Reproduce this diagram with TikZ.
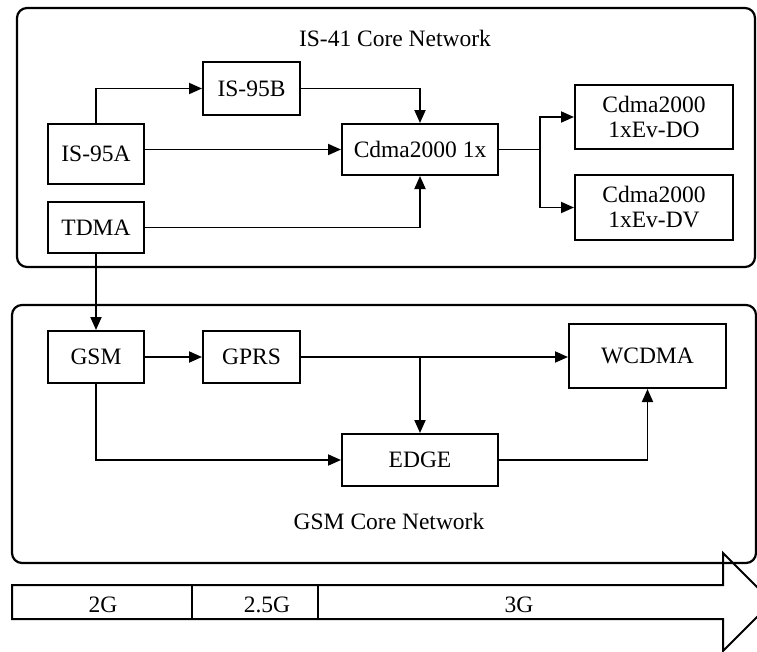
\documentclass[tikz,border=0pt]{standalone}
\usepackage{fontspec}
\setmainfont{Liberation Serif}
\usetikzlibrary{arrows.meta}
\begin{document}
\begin{tikzpicture}[x=1pt,y=-1pt,
  box/.style={draw, line width=2pt, inner sep=0pt, align=center, font=\fontsize{23.5}{25}\selectfont},
  arr/.style={line width=1.9pt, -{Triangle[length=13pt,width=11pt]}},
  cont/.style={draw, line width=2.2pt, rounded corners=10pt},
  lbl/.style={font=\fontsize{23.5}{25}\selectfont, inner sep=0pt}]
\useasboundingbox (0,0) rectangle (757,651);
% containers
\draw[cont] (17,8) rectangle (755,267);
\draw[cont] (12,305) rectangle (756,563);
\node[lbl] (t1) at (395,38) {IS-41 Core Network};
\node[lbl] (t2) at (389,521) {GSM Core Network};
% nodes top
\node[box, minimum width=97pt, minimum height=53pt] (is95b) at (251.5,88.5) {IS-95B};
\node[box, minimum width=96pt, minimum height=60pt] (is95a) at (96,154) {IS-95A};
\node[box, minimum width=96pt, minimum height=51pt] (tdma) at (96,227.5) {TDMA};
\node[box, minimum width=156pt, minimum height=51pt] (cdma1x) at (420,149.5) {Cdma2000 1x};
\node[box, minimum width=158pt, minimum height=64pt] (evdo) at (654,117) {Cdma2000\\1xEv-DO};
\node[box, minimum width=158pt, minimum height=65pt] (evdv) at (654,207.5) {Cdma2000\\1xEv-DV};
% nodes bottom
\node[box, minimum width=96pt, minimum height=52pt] (gsm) at (96,357) {GSM};
\node[box, minimum width=97pt, minimum height=52pt] (gprs) at (251.5,357) {GPRS};
\node[box, minimum width=157pt, minimum height=64pt] (wcdma) at (647.5,356) {WCDMA};
\node[box, minimum width=156pt, minimum height=52pt] (edge) at (420,460) {EDGE};
% connectors top
\draw[arr] (is95a.north) |- (is95b.west);
\draw[arr] (is95a.east |- cdma1x.west) -- (cdma1x.west);
\draw[arr] (is95b.east) -| (cdma1x.north);
\draw[arr] (tdma.east) -| (cdma1x.south);
\coordinate (sp) at (540,149.5);
\draw[line width=1.9pt] (cdma1x.east) -- (sp);
\draw[arr] (sp) |- (evdo.west);
\draw[arr] (sp) |- (evdv.west);
\draw[arr] (tdma.south) -- (gsm.north);
% connectors bottom
\draw[arr] (gsm.east) -- (gprs.west);
\draw[arr] (gprs.east) -- (gprs.east -| wcdma.west);
\coordinate (br) at (gprs.east -| edge.north);
\draw[arr] (br) -- (edge.north);
\draw[arr] (gsm.south) |- (edge.west);
\draw[arr] (edge.east) -| (wcdma.south);
% timeline arrow
\draw[line width=2pt] (12,585) -- (723,585) -- (723,553) -- (772,602) -- (723,651) -- (723,619) -- (12,619) -- cycle;
\draw[line width=2pt] (192,585) -- (192,619);
\draw[line width=2pt] (318,585) -- (318,619);
\node[lbl] (g2) at (103,605) {2G};
\node[lbl] (g25) at (267,605) {2.5G};
\node[lbl] (g3) at (519,605) {3G};
\end{tikzpicture}
\end{document}
